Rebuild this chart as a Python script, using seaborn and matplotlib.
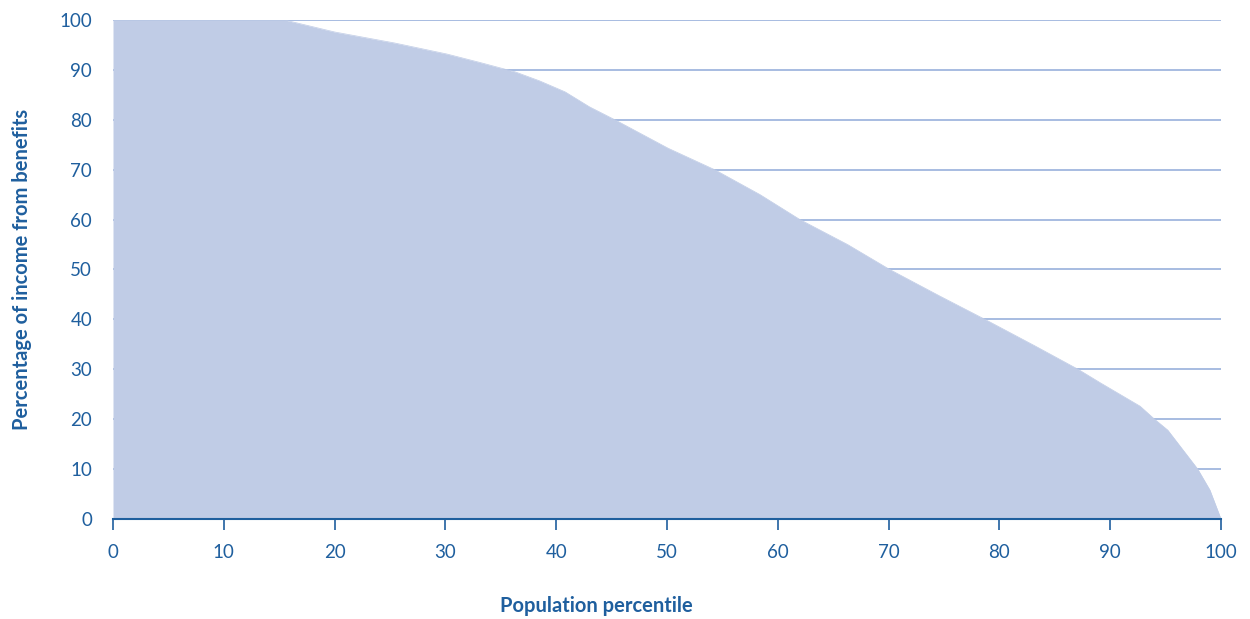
import numpy as np
import pandas as pd
import matplotlib
matplotlib.use('Agg')
import matplotlib.pyplot as plt
import seaborn as sns

# Share of income coming from benefits, by population percentile
percentile = [0, 5, 10, 15.5, 20, 25.4, 30.1, 33.1, 36.3, 38.5, 40.8, 43, 45.3,
              50.1, 54.3, 58.4, 62, 66.3, 70.1, 74.6, 78.7, 83.2, 87.1, 89.1,
              92.7, 94.0, 95.2, 97.9, 99, 100]
benefit_share = [100, 100, 100, 100, 97.6, 95.4, 93.2, 91.5, 89.6, 87.8, 85.6,
                 82.6, 80, 74.3, 70, 65, 60, 55, 50, 44.7, 40, 34.7, 30, 27.3,
                 22.6, 20, 17.8, 10, 5.8, 0]

df = pd.DataFrame({'Population percentile': percentile,
                   'Benefit share': benefit_share})

x_ticks = list(range(0, 101, 10))
y_ticks = list(range(0, 101, 10))

blue = '#1f5f9e'
fill_blue = '#c0cce6'
grid_blue = '#8faad8'

sns.set_theme(style='white')
plt.rcParams['font.family'] = ['Lato', 'DejaVu Sans']

fig = plt.figure(figsize=(12.5, 6.19), dpi=100)
ax = fig.add_axes([0.0904, 0.1616, 0.8864, 0.8061])

# gridlines below the fill
for yv in y_ticks[1:]:
    ax.axhline(yv, color=grid_blue, lw=1.1, zorder=0)

sns.lineplot(data=df, x='Population percentile', y='Benefit share', ax=ax,
             color=fill_blue, lw=0.5, zorder=2)
ax.fill_between(df['Population percentile'], df['Benefit share'], 0,
                color=fill_blue, lw=0, zorder=2)

ax.set_xlim(0, 100)
ax.set_ylim(0, 100)
ax.set_xticks(x_ticks)
ax.set_yticks(y_ticks)
ax.set_xticklabels([str(v) for v in x_ticks])
ax.set_yticklabels([str(v) for v in y_ticks])

for s in ['top', 'right', 'left']:
    ax.spines[s].set_visible(False)
ax.spines['bottom'].set_color(blue)
ax.spines['bottom'].set_linewidth(1.5)
ax.spines['bottom'].set_zorder(3)

ax.tick_params(axis='x', direction='out', length=8, width=1.2, color=blue,
               labelcolor=blue, labelsize=13.5, pad=10, bottom=True)
ax.tick_params(axis='y', length=0, labelcolor=blue, labelsize=13.5, pad=15)

ax.set_xlabel('Population percentile', fontsize=14.5, fontweight='bold',
              color=blue)
ax.xaxis.set_label_coords(0.436, -0.155)
ax.set_ylabel('Percentage of income from benefits', fontsize=14.5,
              fontweight='bold', color=blue, labelpad=20)

fig.savefig('out.png', dpi=100, facecolor='white')
